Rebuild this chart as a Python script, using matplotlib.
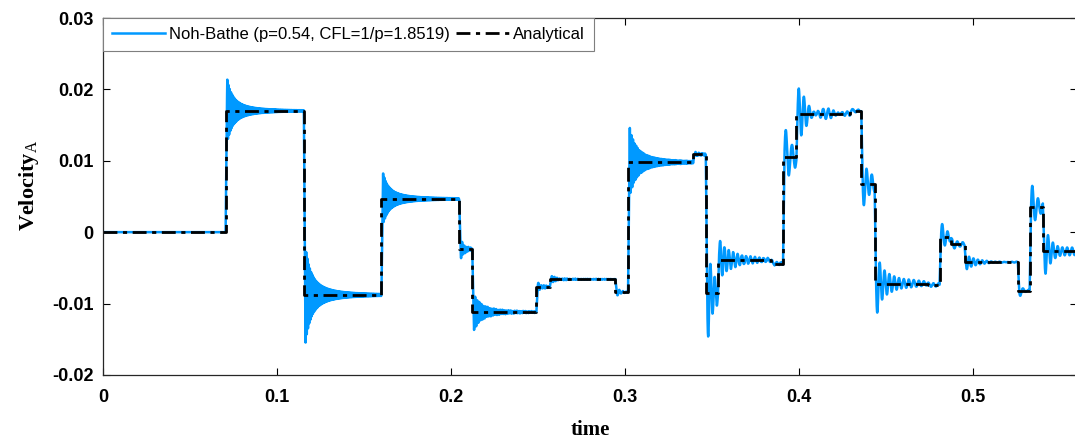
import numpy as np
import matplotlib.pyplot as plt

plt.rcParams['mathtext.fontset'] = 'custom'
plt.rcParams['mathtext.rm'] = 'Liberation Serif'

# analytical velocity: jump times and the level after each jump
step_t = [0.0705, 0.1155, 0.1601, 0.2048, 0.2123, 0.2492, 0.2569, 0.2946,
          0.3019, 0.3393, 0.3466, 0.3536, 0.3843, 0.3910, 0.3987, 0.4293,
          0.4360, 0.4437, 0.4741, 0.4810, 0.4877, 0.4954, 0.5260, 0.5328,
          0.5404]
step_v = [0.0170, -0.0088, 0.00466, -0.0024, -0.0112, -0.0077, -0.0066, -0.0084,
          0.0098, 0.0109, -0.0085, -0.0039, -0.0044, 0.0105, 0.0166, 0.0170,
          0.0068, -0.0072, -0.0074, -0.0007, -0.0017, -0.0042, -0.0082, 0.0035,
          -0.0027]

ring_amp = [0.0046, -0.0070, 0.0037, -0.0016, -0.0027, 0.0008, 0.0005, -0.0006,
            0.0050, 0.0003, -0.0078, 0.0030, 0.0, 0.0045, 0.0030, 0.0,
            -0.0038, -0.0058, 0.0, 0.0024, -0.0008, -0.0013, -0.0011, 0.0040,
            -0.0032]
ring_tau = [0.007, 0.007, 0.007, 0.003, 0.008, 0.003, 0.004, 0.003,
            0.008, 0.003, 0.005, 0.012, 0.003, 0.008, 0.010, 0.003,
            0.006, 0.008, 0.003, 0.005, 0.003, 0.006, 0.003, 0.005,
            0.010]
ring_per = [0.0007, 0.0007, 0.0007, 0.0012, 0.0012, 0.0015, 0.0015, 0.0020,
            0.0009, 0.0020, 0.0025, 0.0025, 0.0030, 0.0035, 0.0028, 0.0030,
            0.0030, 0.0028, 0.0030, 0.0030, 0.0030, 0.0025, 0.0030, 0.0032,
            0.0028]

t_end = 0.56
ramp = 0.0008

t = np.arange(0, t_end, 0.00004)
vel_num = np.zeros_like(t)
prev = 0.0
for t0, v, a, tau, per in zip(step_t, step_v, ring_amp, ring_tau, ring_per):
    dt = t - t0
    vel_num += (v - prev) * np.clip(dt / ramp, 0, 1)
    dr = dt - ramp
    on = dr > 0
    env = (1 + dr[on] / tau) ** -2
    vel_num[on] += a * env * np.sin(2 * np.pi * dr[on] / per)
    prev = v

x_an = [0] + step_t + [t_end]
y_an = [0] + step_v + [step_v[-1]]

fig = plt.figure(figsize=(10.75, 4.4), dpi=100)
ax = fig.add_axes([0.0958, 0.148, 0.906, 0.811])

ax.plot(t, vel_num, color='#0099ff', lw=1.8,
        label='Noh-Bathe (p=0.54, CFL=1/p=1.8519)')
ax.step(x_an, y_an, where='post', color='black', lw=2.0,
        dashes=(5, 2, 1.5, 2), label='Analytical')

ax.set_xlim(0, t_end)
ax.set_ylim(-0.02, 0.03)
ax.set_xticks([0, 0.1, 0.2, 0.3, 0.4, 0.5])
ax.set_xticklabels(['0', '0.1', '0.2', '0.3', '0.4', '0.5'])
ax.set_yticks([-0.02, -0.01, 0, 0.01, 0.02, 0.03])
ax.set_yticklabels(['-0.02', '-0.01', '0', '0.01', '0.02', '0.03'])
ax.tick_params(direction='in', top=True, right=True, length=5, width=0.8,
               labelsize=13)
ax.tick_params(axis='x', pad=10)
ax.tick_params(axis='y', pad=7)
for lab in ax.get_xticklabels() + ax.get_yticklabels():
    lab.set_fontfamily('Liberation Sans')
    lab.set_fontweight('bold')
for s in ax.spines.values():
    s.set_linewidth(0.9)
    s.set_color('#262626')

ax.set_xlabel('time', fontfamily='Liberation Serif', fontweight='bold',
              fontsize=15, labelpad=10)
ax.set_ylabel(r'Velocity$_\mathrm{A}$', fontfamily='Liberation Serif',
              fontweight='bold', fontsize=16)
ax.yaxis.set_label_coords(-0.064, 0.53)

leg = ax.legend(loc='upper left', bbox_to_anchor=(0, 1), borderaxespad=0,
                ncol=2, fancybox=False, framealpha=1, edgecolor='#7f7f7f',
                prop={'family': 'Liberation Sans', 'size': 12},
                handlelength=3.2, handletextpad=0.2, columnspacing=0.4,
                borderpad=0.55)
leg.get_frame().set_linewidth(0.8)

plt.savefig('out.png', dpi=100)
